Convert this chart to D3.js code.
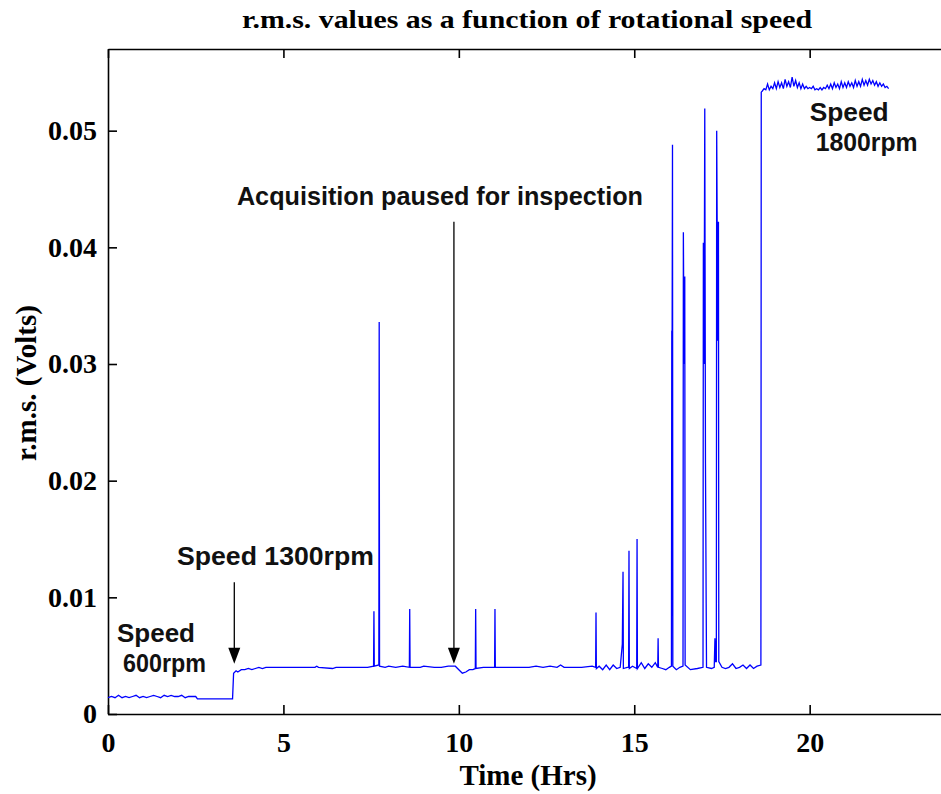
<!DOCTYPE html>
<html lang="en">
<head>
    <script src="https://d3js.org/d3.v7.min.js"></script>
    <style>
        body { margin: 0; background: #fff; }
        .title { font-size: 26px; font-weight: bold; font-family: "Liberation Serif", "Times New Roman", serif; text-anchor: middle; }
        .axis-title { font-size: 29px; font-weight: bold; font-family: "Liberation Serif", "Times New Roman", serif; }
        .tick text { font-size: 28px; font-weight: bold; font-family: "Liberation Serif", "Times New Roman", serif; fill: #000; }
        .note { font-size: 25px; font-weight: bold; font-family: "Liberation Sans", Arial, sans-serif; fill: #111; }
    </style>
</head>
<body>
    <div id="chart"></div>
    <script>
        // [time (hrs), r.m.s. (volts)]
        const run600 = [[0, 0.0014], [0.1, 0.0015], [0.2, 0.0014], [0.3, 0.0016], [0.4, 0.0014], [0.5, 0.0015], [0.6, 0.0014], [0.7, 0.0015], [0.8, 0.0016], [0.9, 0.0014],
            [1.0, 0.0015], [1.1, 0.0014], [1.2, 0.0015], [1.3, 0.0016], [1.4, 0.0015], [1.5, 0.0014], [1.6, 0.0016], [1.7, 0.0015], [1.8, 0.0016], [1.9, 0.0015],
            [2.0, 0.0015], [2.1, 0.0016], [2.2, 0.0014], [2.3, 0.0015], [2.4, 0.0015], [2.5, 0.0015], [2.55, 0.0013], [3.0, 0.0013], [3.55, 0.0013]];

        const run1300 = [[3.58, 0.0035], [3.65, 0.0037], [3.7, 0.0036], [3.8, 0.0038], [3.9, 0.0038], [4.0, 0.0039], [4.1, 0.0038], [4.2, 0.0039], [4.3, 0.0040], [4.4, 0.0039],
            [4.5, 0.0040], [5.0, 0.0040], [5.5, 0.0040], [5.9, 0.0040], [5.95, 0.0041], [6.0, 0.0040], [6.4, 0.0039], [6.5, 0.0040], [7.0, 0.0040], [7.2, 0.0040], [7.4, 0.0040],
            [7.57, 0.0041], [7.58, 0.0088], [7.59, 0.0041], [7.72, 0.0042], [7.73, 0.0336], [7.74, 0.0041], [7.9, 0.0040], [8.0, 0.0041], [8.2, 0.0040], [8.4, 0.0041],
            [8.59, 0.0040], [8.6, 0.0090], [8.61, 0.0040], [8.9, 0.0040], [9.0, 0.0041], [9.3, 0.0040], [9.5, 0.0040], [9.7, 0.0041], [9.9, 0.0041],
            [10.0, 0.0038], [10.1, 0.0035], [10.2, 0.0036], [10.3, 0.0038], [10.4, 0.0038], [10.47, 0.0039], [10.48, 0.0090], [10.49, 0.0039], [10.7, 0.0040],
            [11.02, 0.0040], [11.03, 0.0090], [11.04, 0.0040], [11.5, 0.0040], [12.0, 0.0040], [12.2, 0.0041], [12.4, 0.0040], [12.6, 0.0041], [12.8, 0.0040], [12.9, 0.0042],
            [13.0, 0.0040], [13.2, 0.0040], [13.5, 0.0040], [13.8, 0.0041], [13.9, 0.0040], [13.91, 0.0087], [13.92, 0.0039],
            [14.0, 0.0041], [14.1, 0.0038], [14.2, 0.0042], [14.3, 0.0038], [14.4, 0.0042], [14.5, 0.0039], [14.6, 0.0040], [14.66, 0.0060], [14.68, 0.0122], [14.69, 0.0039],
            [14.8, 0.0040], [14.84, 0.0040], [14.85, 0.0140], [14.86, 0.0039], [14.95, 0.0041], [15.07, 0.0039], [15.08, 0.0150], [15.09, 0.0039],
            [15.2, 0.0044], [15.3, 0.0039], [15.4, 0.0043], [15.5, 0.0040], [15.6, 0.0044], [15.67, 0.0040], [15.68, 0.0065], [15.69, 0.0040], [15.8, 0.0039], [15.9, 0.0038],
            [16.0, 0.0040], [16.06, 0.0041], [16.07, 0.0328], [16.08, 0.0329], [16.09, 0.0488], [16.1, 0.0041], [16.2, 0.0038], [16.3, 0.0040],
            [16.39, 0.0041], [16.4, 0.0413], [16.42, 0.0300], [16.44, 0.0375], [16.45, 0.0042], [16.6, 0.0038], [16.8, 0.0039],
            [16.96, 0.0040], [16.97, 0.0404], [16.99, 0.0300], [17.01, 0.0519], [17.03, 0.0215], [17.05, 0.0095], [17.06, 0.0040], [17.2, 0.0039],
            [17.28, 0.0040], [17.3, 0.0065], [17.32, 0.0045], [17.34, 0.0045], [17.35, 0.0500], [17.38, 0.0320], [17.4, 0.0422], [17.41, 0.0045],
            [17.5, 0.0040], [17.6, 0.0039], [17.7, 0.0040], [17.8, 0.0043], [17.9, 0.0039], [18.0, 0.0040], [18.1, 0.0042], [18.2, 0.0039], [18.3, 0.0042],
            [18.4, 0.0039], [18.5, 0.0041], [18.61, 0.0042]];

        const run1800 = [[18.62, 0.0533], [18.65, 0.0534], [18.7, 0.0536], [18.75, 0.0535], [18.8, 0.0540], [18.85, 0.0535], [18.9, 0.0538], [18.95, 0.0536],
            [19.0, 0.0541], [19.05, 0.0536], [19.1, 0.0542], [19.15, 0.0537], [19.2, 0.0541], [19.25, 0.0536], [19.3, 0.0544], [19.35, 0.0538], [19.4, 0.0542],
            [19.45, 0.0537], [19.5, 0.0546], [19.55, 0.0538], [19.6, 0.0543], [19.65, 0.0537], [19.7, 0.0541], [19.75, 0.0536], [19.8, 0.0540], [19.85, 0.0536],
            [19.9, 0.0538], [19.95, 0.0536], [20.0, 0.0537], [20.05, 0.0536], [20.1, 0.0538], [20.15, 0.0535], [20.2, 0.0536], [20.25, 0.0535], [20.3, 0.0537],
            [20.35, 0.0535], [20.4, 0.0537], [20.45, 0.0536], [20.5, 0.0539], [20.55, 0.0536], [20.6, 0.0540], [20.65, 0.0536], [20.7, 0.0541], [20.75, 0.0537],
            [20.8, 0.0540], [20.85, 0.0536], [20.9, 0.0542], [20.95, 0.0537], [21.0, 0.0541], [21.05, 0.0537], [21.1, 0.0542], [21.15, 0.0538], [21.2, 0.0541],
            [21.25, 0.0537], [21.3, 0.0543], [21.35, 0.0538], [21.4, 0.0542], [21.45, 0.0538], [21.5, 0.0544], [21.55, 0.0539], [21.6, 0.0543], [21.65, 0.0539],
            [21.7, 0.0544], [21.75, 0.0540], [21.8, 0.0543], [21.85, 0.0539], [21.9, 0.0542], [21.95, 0.0538], [22.0, 0.0541], [22.05, 0.0538], [22.1, 0.0540],
            [22.15, 0.0537], [22.2, 0.0538], [22.25, 0.0536]];

        const xTicks = [0, 5, 10, 15, 20];
        const yTicks = [0, 0.01, 0.02, 0.03, 0.04, 0.05];

        // annotations: text lines placed at [hours, volts]
        const notes = [
            { lines: ["Acquisition paused for inspection"], widths: [406], x: 3.675, y: 0.0436 },
            { lines: ["Speed 1300rpm"], widths: [197], x: 1.966, y: 0.0128 },
            { lines: ["Speed", "600rpm"], widths: [78, 83], x: 0.256, y: 0.0062 },
            { lines: ["Speed", "1800rpm"], widths: [79, 102], x: 20.0, y: 0.0508 }
        ];
        const arrows = [
            { x: 3.6, from: 0.0113, to: 0.0043 },
            { x: 9.86, from: 0.0422, to: 0.0043 }
        ];

        const data = [];
        run600.concat(run1300, run1800).forEach(p => data.push({ x: p[0], y: p[1] }));

        const width = 941;
        const height = 794;
        const margin = { top: 49, right: -9, bottom: 80, left: 108 };

        const svg = d3.select("#chart")
            .append("svg")
            .attr("width", width)
            .attr("height", height);

        const xScale = d3.scaleLinear().domain([0, 24]).range([margin.left, width - margin.right]);
        const yScale = d3.scaleLinear().domain([0, 0.057]).range([height - margin.bottom, margin.top]);

        // axes, ticks pointing inward
        const xAxis = d3.axisBottom(xScale).tickValues(xTicks).tickSizeInner(-9).tickSizeOuter(0).tickPadding(13).tickFormat(d3.format("d"));
        const yAxis = d3.axisLeft(yScale).tickValues(yTicks).tickSizeInner(-9).tickSizeOuter(0).tickPadding(11)
            .tickFormat(d => d === 0 ? "0" : d.toFixed(2));
        const topAxis = d3.axisTop(xScale).tickValues(xTicks).tickSizeInner(-9).tickSizeOuter(0).tickFormat("");

        const gx = svg.append("g").attr("transform", "translate(0," + yScale(0) + ")").call(xAxis);
        const gy = svg.append("g").attr("transform", "translate(" + xScale(0) + ",0)").call(yAxis);
        const gt = svg.append("g").attr("transform", "translate(0," + yScale(0.057) + ")").call(topAxis);
        [gx, gy, gt].forEach(g => {
            g.selectAll("path, line").attr("stroke", "#000").attr("stroke-width", 1.6);
        });
        gx.selectAll(".tick text").attr("dy", "0.9em");

        const line = d3.line().x(d => xScale(d.x)).y(d => yScale(d.y));
        svg.append("path")
            .datum(data)
            .attr("fill", "none")
            .attr("stroke", "#0000ff")
            .attr("stroke-width", 1.3)
            .attr("d", line);

        // arrows
        arrows.forEach(a => {
            const x = xScale(a.x);
            const y0 = yScale(a.from);
            const y1 = yScale(a.to);
            svg.append("line")
                .attr("x1", x).attr("x2", x)
                .attr("y1", y0).attr("y2", y1 - 14)
                .attr("stroke", "#000").attr("stroke-width", 1.3);
            svg.append("path")
                .attr("d", "M" + (x - 6) + "," + (y1 - 16) + "L" + (x + 6) + "," + (y1 - 16) + "L" + x + "," + y1 + "Z")
                .attr("fill", "#000");
        });

        notes.forEach(n => {
            const t = svg.append("text")
                .attr("class", "note")
                .attr("x", xScale(n.x))
                .attr("y", yScale(n.y));
            n.lines.forEach((s, i) => {
                t.append("tspan")
                    .attr("x", xScale(n.x) + (i > 0 ? 6 : 0))
                    .attr("dy", i > 0 ? 30 : 0)
                    .attr("textLength", n.widths[i])
                    .attr("lengthAdjust", "spacingAndGlyphs")
                    .text(s);
            });
        });

        svg.append("text")
            .attr("class", "title")
            .attr("x", 527)
            .attr("y", 28)
            .attr("textLength", 570)
            .attr("lengthAdjust", "spacingAndGlyphs")
            .text("r.m.s. values as a function of rotational speed");

        svg.append("text")
            .attr("class", "axis-title")
            .attr("text-anchor", "middle")
            .attr("x", 528)
            .attr("y", 785)
            .text("Time (Hrs)");

        svg.append("text")
            .attr("class", "axis-title")
            .attr("text-anchor", "middle")
            .attr("transform", "rotate(-90)")
            .attr("x", -383)
            .attr("y", 36)
            .text("r.m.s. (Volts)");
    </script>
</body>
</html>
